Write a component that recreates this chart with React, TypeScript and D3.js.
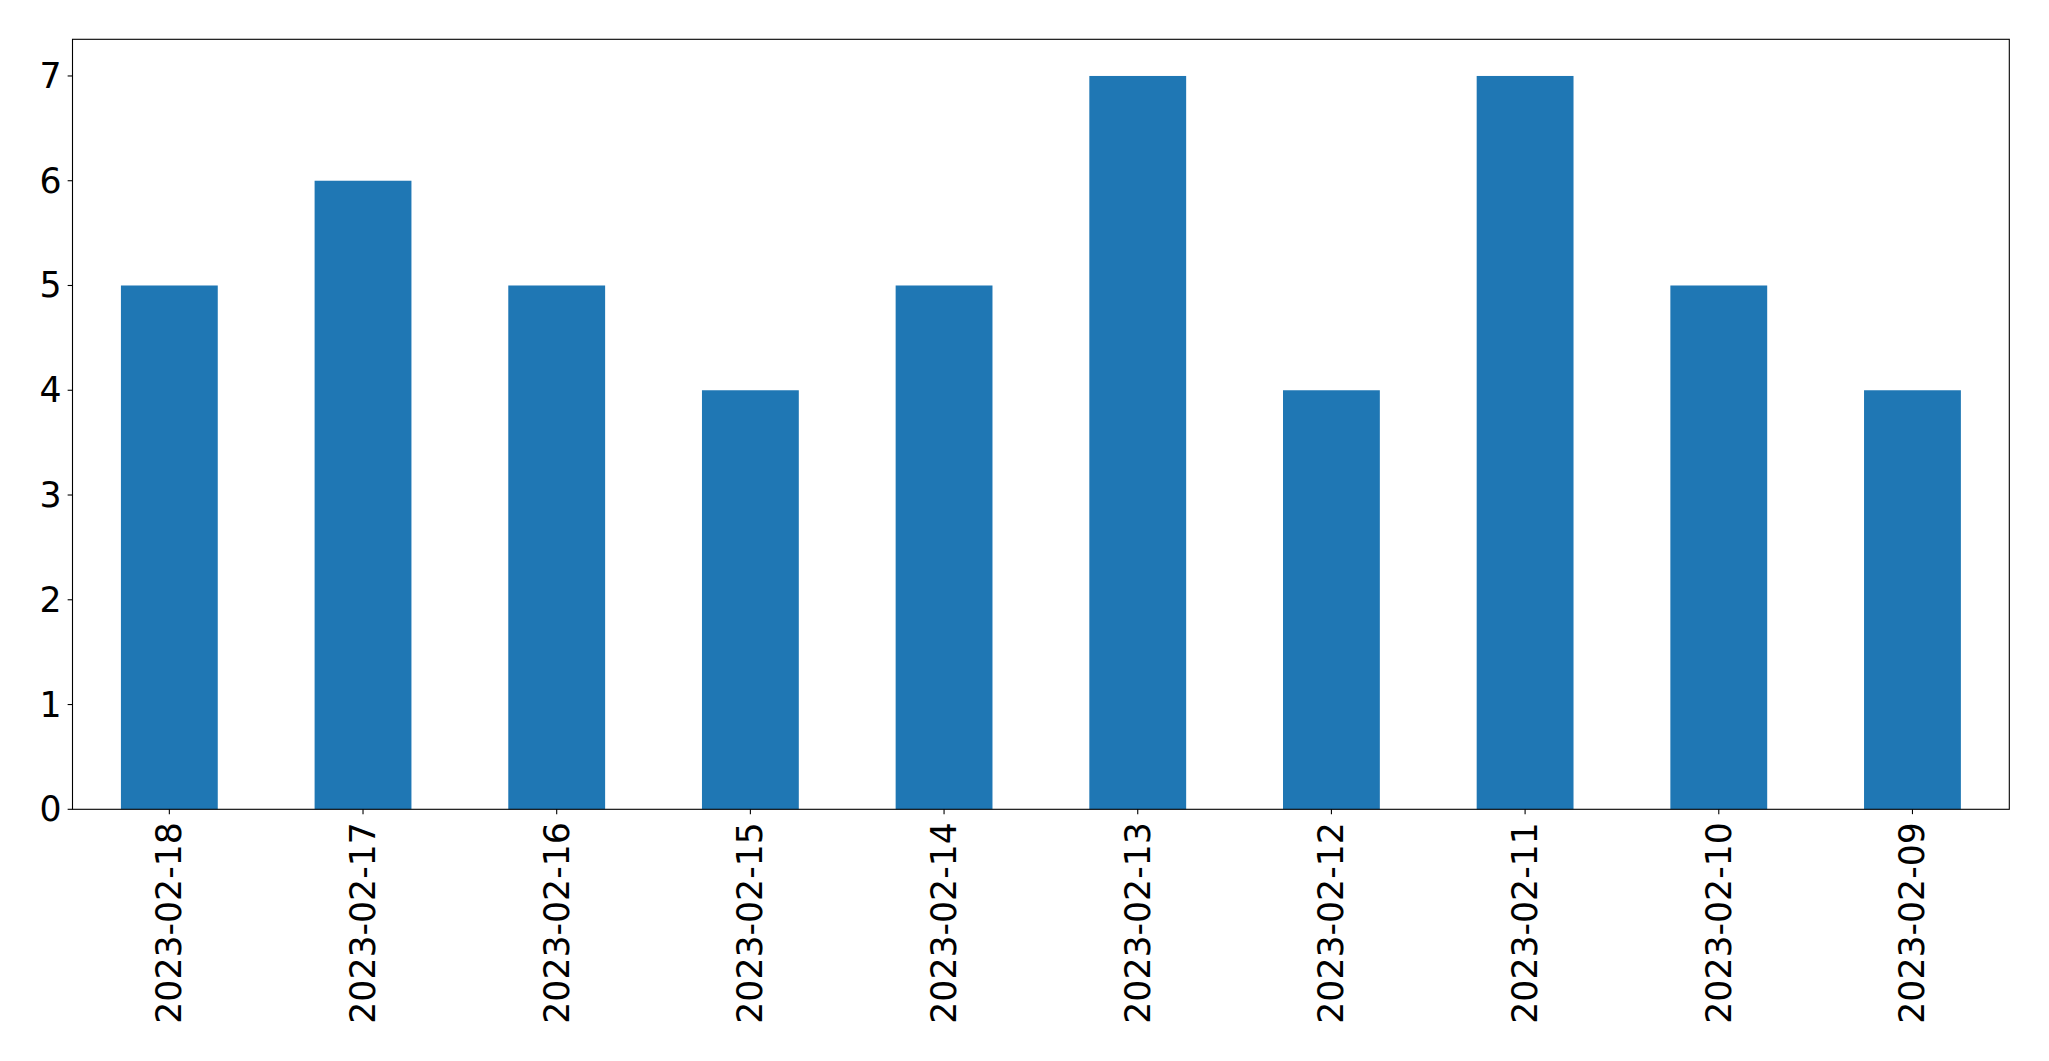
import React from "react";
import * as d3 from "d3";

const categories = ["2023-02-18","2023-02-17","2023-02-16","2023-02-15","2023-02-14","2023-02-13","2023-02-12","2023-02-11","2023-02-10","2023-02-09"];
const values = [5, 6, 5, 4, 5, 7, 4, 7, 5, 4];
const yTicks = [0, 1, 2, 3, 4, 5, 6, 7];

export default function App() {
  const W = 2049, H = 1061;
  const left = 72.5, right = 2009.3, top = 39.3, bottom = 809.3;
  const x = d3.scaleLinear().domain([-0.5, categories.length - 0.5]).range([left, right]);
  const y = d3.scaleLinear().domain([0, 7.35]).range([bottom, top]);
  const font = "'DejaVu Sans', sans-serif";
  const fs = 34.7;
  const tickLen = 4.86;
  return (
    <svg width={W} height={H} style={{ position: "absolute", left: 0, top: 0 }}>
      <rect x={0} y={0} width={W} height={H} fill="#fff" />
      {values.map((v, i) => (
        <rect key={i} x={x(i - 0.25)} width={x(i + 0.25) - x(i - 0.25)} y={y(v)} height={y(0) - y(v)} fill="#1f77b4" />
      ))}
      <rect x={left} y={top} width={right - left} height={bottom - top} fill="none" stroke="#000" strokeWidth={1.1} />
      {yTicks.map((t) => (
        <g key={t}>
          <line x1={left - tickLen} x2={left} y1={y(t)} y2={y(t)} stroke="#000" strokeWidth={1.1} />
          <text x={left - tickLen - 6} y={y(t)} textAnchor="end" dominantBaseline="central" fontFamily={font} fontSize={fs} fill="#000">{t}</text>
        </g>
      ))}
      {categories.map((c, i) => (
        <g key={c}>
          <line x1={x(i)} x2={x(i)} y1={bottom} y2={bottom + tickLen} stroke="#000" strokeWidth={1.1} />
          <text transform={`translate(${x(i)},${bottom + tickLen + 8}) rotate(-90)`} textAnchor="end" dominantBaseline="central" fontFamily={font} fontSize={fs} fill="#000">{c}</text>
        </g>
      ))}
    </svg>
  );
}
